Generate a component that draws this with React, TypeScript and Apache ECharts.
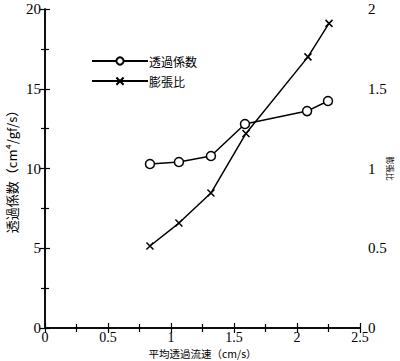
import React, { useEffect, useRef } from "react";
import * as echarts from "echarts";

const flowX1 = [0.833, 1.063, 1.317, 1.587, 2.08, 2.246];
const permeability = [10.28, 10.41, 10.78, 12.79, 13.6, 14.23];
const flowX2 = [0.833, 1.063, 1.317, 1.595, 2.087, 2.254];
const swellRatio = [0.514, 0.658, 0.846, 1.22, 1.7, 1.91];

const seriesNames = ["透過係数", "膨張比"];
const xName = "平均透過流速（cm/s）";
const yLeftName = "透過係数（cm⁴/gf/s）";
const yRightName = "膨張比";

const serif = "'Liberation Serif', 'DejaVu Serif', serif";
const cjk = "'Noto Sans CJK JP', sans-serif";

export default function App() {
  const ref = useRef<HTMLDivElement>(null);
  useEffect(() => {
    if (!ref.current) return;
    const chart = echarts.init(ref.current, null, { renderer: "svg" });
    const axisLine = { show: true, lineStyle: { color: "#000", width: 1.5 } };
    const tick = { show: true, inside: true, length: 5, lineStyle: { color: "#000", width: 1.2 } };
    const minor = { show: true, splitNumber: 2, length: 4, lineStyle: { color: "#000", width: 1.2 } };
    chart.setOption({
      animation: false,
      backgroundColor: "#fff",
      grid: { left: 45, top: 9, right: 40, bottom: 33, containLabel: false, outerBoundsMode: "none" },
      legend: {
        orient: "vertical",
        left: 86,
        top: 50,
        itemWidth: 56,
        itemHeight: 9,
        itemGap: 8,
        textStyle: { fontFamily: cjk, fontSize: 12, color: "#000", padding: [0, 0, 0, -4] },
        data: seriesNames,
      },
      xAxis: [
        {
          type: "value",
          min: 0,
          max: 2.5,
          interval: 0.5,
          name: xName,
          nameLocation: "middle",
          nameGap: 20,
          nameMoveOverlap: false,
          nameTextStyle: { fontFamily: cjk, fontSize: 10.5, color: "#000", lineHeight: 11 },
          axisLine,
          axisTick: tick,
          minorTick: minor,
          splitLine: { show: false },
          axisLabel: {
            fontFamily: serif,
            fontSize: 14,
            lineHeight: 13,
            color: "#000",
            margin: 3,
            formatter: (v: number) => String(v),
          },
        },
        {
          type: "value",
          position: "top",
          min: 0,
          max: 2.5,
          interval: 0.5,
          axisLine,
          axisTick: tick,
          minorTick: minor,
          splitLine: { show: false },
          axisLabel: { show: false },
        },
      ],
      yAxis: [
        {
          type: "value",
          min: 0,
          max: 20,
          interval: 5,
          name: yLeftName,
          nameLocation: "middle",
          nameGap: 27,
          nameMoveOverlap: false,
          nameTextStyle: { fontFamily: cjk, fontSize: 13, color: "#000" },
          axisLine,
          axisTick: tick,
          minorTick: minor,
          splitLine: { show: false },
          axisLabel: { fontFamily: serif, fontSize: 15, color: "#000", margin: 4 },
        },
        {
          type: "value",
          position: "right",
          min: 0,
          max: 2,
          interval: 0.5,
          name: yRightName,
          nameLocation: "middle",
          nameGap: 26,
          nameRotate: -90,
          nameMoveOverlap: false,
          nameTextStyle: { fontFamily: cjk, fontSize: 8, color: "#000", lineHeight: 9 },
          axisLine,
          axisTick: tick,
          minorTick: minor,
          splitLine: { show: false },
          axisLabel: { fontFamily: serif, fontSize: 15, color: "#000", margin: 8 },
        },
      ],
      series: [
        {
          name: seriesNames[0],
          type: "line",
          xAxisIndex: 0,
          yAxisIndex: 0,
          data: flowX1.map((x, i) => [x, permeability[i]]),
          symbol: "circle",
          symbolSize: 9,
          lineStyle: { color: "#000", width: 1.5 },
          itemStyle: { color: "#fff", borderColor: "#000", borderWidth: 1.5 },
        },
        {
          name: seriesNames[1],
          type: "line",
          xAxisIndex: 0,
          yAxisIndex: 1,
          data: flowX2.map((x, i) => [x, swellRatio[i]]),
          symbol: "path://M0,0L10,10M10,0L0,10",
          symbolSize: 7,
          lineStyle: { color: "#000", width: 1.5 },
          itemStyle: { color: "none", borderColor: "#000", borderWidth: 1.5 },
        },
      ],
    });
    return () => chart.dispose();
  }, []);
  return (
    <div
      ref={ref}
      style={{ position: "fixed", left: 0, top: 0, width: 400, height: 361 }}
    />
  );
}
